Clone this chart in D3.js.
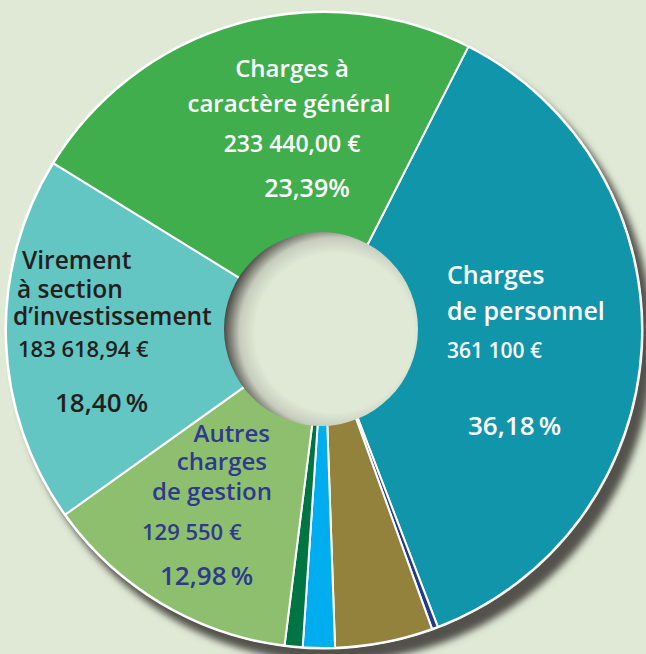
<!DOCTYPE html>
<html>

<head>
    <meta charset='utf-8'>
</head>
<style>
    body {
        margin: 0;
        background: #dfe9d5;
    }

    text {
        font-family: 'Open Sans', sans-serif;
        font-weight: 600;
    }
</style>

<body>
    <svg width="646" height="654"></svg>
    <script src="https://d3js.org/d3.v7.min.js"></script>
    <script>
        // slices in clockwise order, starting with "Charges de personnel"
        var categories = [
            "Charges de personnel",
            "Poste non libellé 1",
            "Poste non libellé 2",
            "Poste non libellé 3",
            "Poste non libellé 4",
            "Autres charges de gestion",
            "Virement à section d’investissement",
            "Charges à caractère général"
        ];
        var percents = [36.18, 0.3, 4.9, 1.6, 0.9, 12.98, 18.40, 23.39];
        var amounts = ["361 100 €", "", "", "", "", "129 550 €", "183 618,94 €", "233 440,00 €"];
        var percentLabels = ["36,18\u2009%", "", "", "", "", "12,98\u2009%", "18,40\u2009%", "23,39%"];
        var titleLines = [
            ["Charges", "de personnel"],
            [], [], [], [],
            ["Autres", "charges", "de gestion"],
            ["Virement", "à section", "d’investissement"],
            ["Charges à", "caractère général"]
        ];
        var colors = ["#1195ab", "#243a8b", "#93823b", "#00adef", "#007443", "#8ebf6f", "#64c6c2", "#40ae4c"];

        // where each label block sits (title lines, amount, percent)
        var labelLayout = {
            0: { color: "#ffffff", size: 25, lines: [[447, 284, "start"], [447, 320, "start"]], amount: [447, 358, "start", 21], pct: [468, 435, "start", 26] },
            5: { color: "#2e3a8c", size: 24, lines: [[270, 442, "end"], [267, 470, "end"], [272, 500, "end"]], amount: [142, 540, "start", 22], pct: [160, 585, "start", 26] },
            6: { color: "#231f20", size: 24.5, lines: [[22, 269, "start"], [17, 298, "start"], [13, 325, "start"]], amount: [18, 357, "start", 22], pct: [55, 412, "start", 26] },
            7: { color: "#ffffff", size: 24, lines: [[292, 77, "middle"], [289, 112, "middle"]], amount: [292, 152, "middle", 23], pct: [307, 197, "middle", 25] }
        };

        var svg = d3.select('svg'),
            width = +svg.attr('width'),
            height = +svg.attr('height');

        var cx = 324,
            cy = 330,
            outerR = 318,
            holeR = 97;

        var defs = svg.append('defs');
        defs.append('filter')
            .attr('id', 'blur')
            .attr('x', '-10%').attr('y', '-10%')
            .attr('width', '120%').attr('height', '120%')
            .append('feGaussianBlur')
            .attr('stdDeviation', 3.5);

        var holeGrad = defs.append('radialGradient')
            .attr('id', 'holeGrad')
            .attr('cx', 0.57).attr('cy', 0.52).attr('r', 0.57);
        holeGrad.append('stop').attr('offset', '0%').attr('stop-color', '#dfe9d5');
        holeGrad.append('stop').attr('offset', '72%').attr('stop-color', '#dfe9d5');
        holeGrad.append('stop').attr('offset', '86%').attr('stop-color', '#c6ccbd');
        holeGrad.append('stop').attr('offset', '95%').attr('stop-color', '#77786f');
        holeGrad.append('stop').attr('offset', '100%').attr('stop-color', '#4a4a45');

        svg.append('rect')
            .attr('width', width)
            .attr('height', height)
            .attr('fill', '#dfe9d5');

        var g = svg.append('g')
            .attr('transform', 'translate(' + cx + ',' + cy + ')');

        // drop shadow below-right of the ring
        g.append('circle')
            .attr('cx', 9)
            .attr('cy', 12)
            .attr('r', outerR + 2)
            .attr('fill', '#52514c')
            .attr('filter', 'url(#blur)');

        g.append('circle')
            .attr('r', outerR + 1.5)
            .attr('fill', '#ffffff');

        var start = 27 * Math.PI / 180;
        var pie = d3.pie()
            .sort(null)
            .value(function(d) { return d; })
            .startAngle(start)
            .endAngle(start + 2 * Math.PI);

        var arc = d3.arc()
            .innerRadius(holeR - 8)
            .outerRadius(outerR);

        g.selectAll('path.slice')
            .data(pie(percents))
            .enter().append('path')
            .attr('class', 'slice')
            .attr('d', arc)
            .attr('fill', function(d, i) { return colors[i]; })
            .attr('stroke', '#ffffff')
            .attr('stroke-width', 2)
            .attr('stroke-linejoin', 'round');

        // hole with its inner shadow
        g.append('circle')
            .attr('cx', -3)
            .attr('cy', -1)
            .attr('r', holeR)
            .attr('fill', 'url(#holeGrad)');

        // labels
        var labels = svg.append('g');
        Object.keys(labelLayout).forEach(function(k) {
            var i = +k,
                L = labelLayout[k];
            titleLines[i].forEach(function(t, j) {
                labels.append('text')
                    .attr('x', L.lines[j][0])
                    .attr('y', L.lines[j][1])
                    .attr('text-anchor', L.lines[j][2])
                    .attr('font-size', L.size)
                    .attr('fill', L.color)
                    .text(t);
            });
            labels.append('text')
                .attr('x', L.amount[0])
                .attr('y', L.amount[1])
                .attr('text-anchor', L.amount[2])
                .attr('font-size', L.amount[3])
                .attr('fill', L.color)
                .text(amounts[i]);
            labels.append('text')
                .attr('x', L.pct[0])
                .attr('y', L.pct[1])
                .attr('text-anchor', L.pct[2])
                .attr('font-size', L.pct[3])
                .attr('fill', L.color)
                .text(percentLabels[i]);
        });
    </script>
</body>

</html>
